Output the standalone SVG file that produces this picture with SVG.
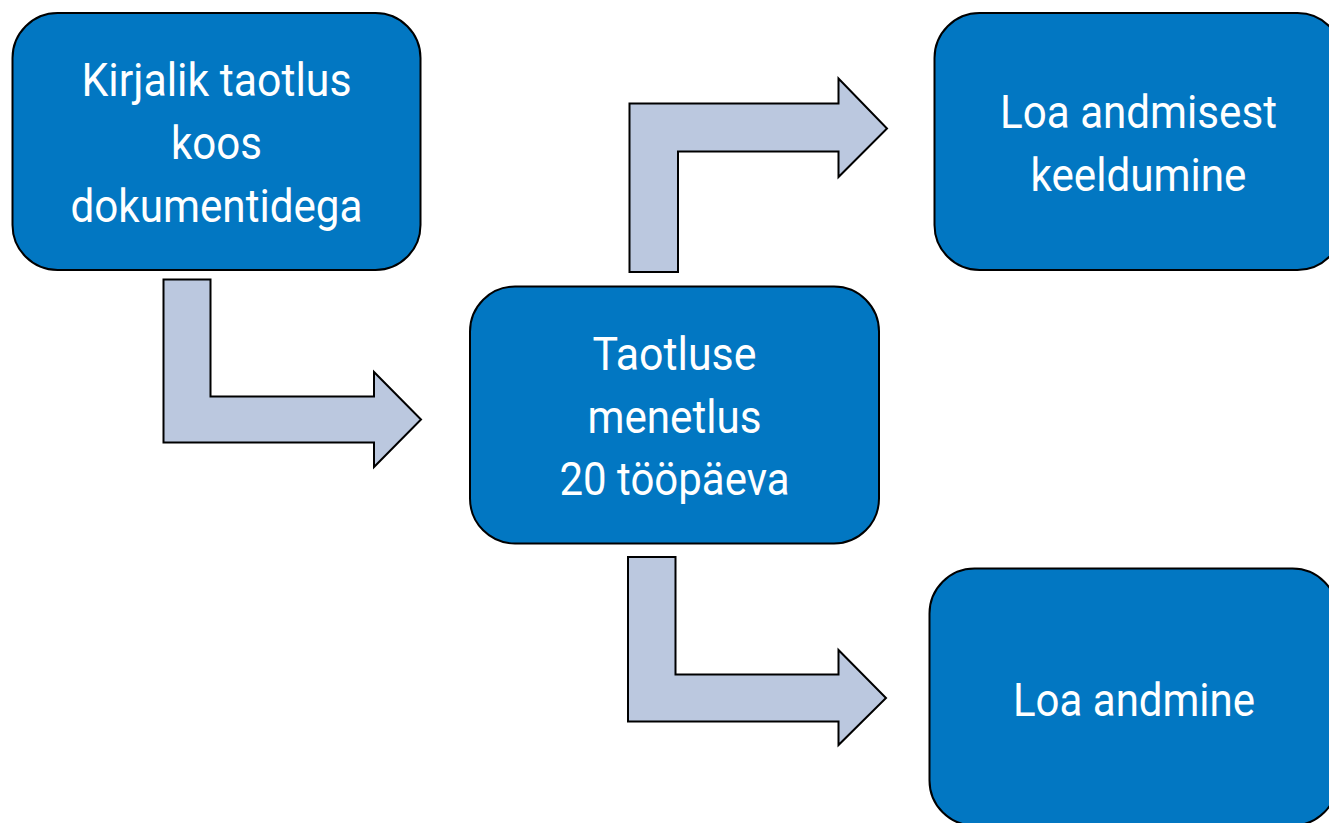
<svg xmlns="http://www.w3.org/2000/svg" width="1329" height="823" viewBox="0 0 1329 823">
<style>
.box{fill:#0277c2;stroke:#000;stroke-width:2}
.arr{fill:#bbc8df;stroke:#000;stroke-width:2;stroke-linejoin:miter}
.t{font-family:Roboto,"Liberation Sans",sans-serif;font-size:47px;fill:#fff;text-anchor:middle}
</style>
<rect width="1329" height="823" fill="#fff"/>
<g id="connectors">
<path class="arr" d="M163.5,279.5 H210.5 V396.5 H374 V372 L421,419.5 L374,467 V442.5 H163.5 Z"/>
<path class="arr" d="M629.5,272 V103.5 H838.5 V78.5 L887,128.5 L838.5,177 V151.5 H678 V272 Z"/>
<path class="arr" d="M628,557 H675.5 V674.5 H838.5 V650 L886,698 L838.5,745 V721.5 H628 Z"/>
</g>
<g id="node-kirjalik">
<rect class="box" x="12.5" y="13" width="408" height="257" rx="45" ry="45"/>
<text class="t" x="216.5" y="96" textLength="270" lengthAdjust="spacingAndGlyphs">Kirjalik taotlus</text>
<text class="t" x="216.5" y="159" textLength="91" lengthAdjust="spacingAndGlyphs">koos</text>
<text class="t" x="216.5" y="222" textLength="292" lengthAdjust="spacingAndGlyphs">dokumentidega</text>
</g>
<g id="node-menetlus">
<rect class="box" x="470" y="286.5" width="409" height="257" rx="45" ry="45"/>
<text class="t" x="674.5" y="370" textLength="164" lengthAdjust="spacingAndGlyphs">Taotluse</text>
<text class="t" x="674.5" y="433" textLength="174" lengthAdjust="spacingAndGlyphs">menetlus</text>
<text class="t" x="674.5" y="495" textLength="230" lengthAdjust="spacingAndGlyphs">20 tööpäeva</text>
</g>
<g id="node-keeldumine">
<rect class="box" x="934.5" y="13" width="408" height="257" rx="45" ry="45"/>
<text class="t" x="1138.5" y="128" textLength="277" lengthAdjust="spacingAndGlyphs">Loa andmisest</text>
<text class="t" x="1138.5" y="191" textLength="216" lengthAdjust="spacingAndGlyphs">keeldumine</text>
</g>
<g id="node-andmine">
<rect class="box" x="929.5" y="568.5" width="408" height="257" rx="45" ry="45"/>
<text class="t" x="1134" y="715.5" textLength="242" lengthAdjust="spacingAndGlyphs">Loa andmine</text>
</g>
</svg>
